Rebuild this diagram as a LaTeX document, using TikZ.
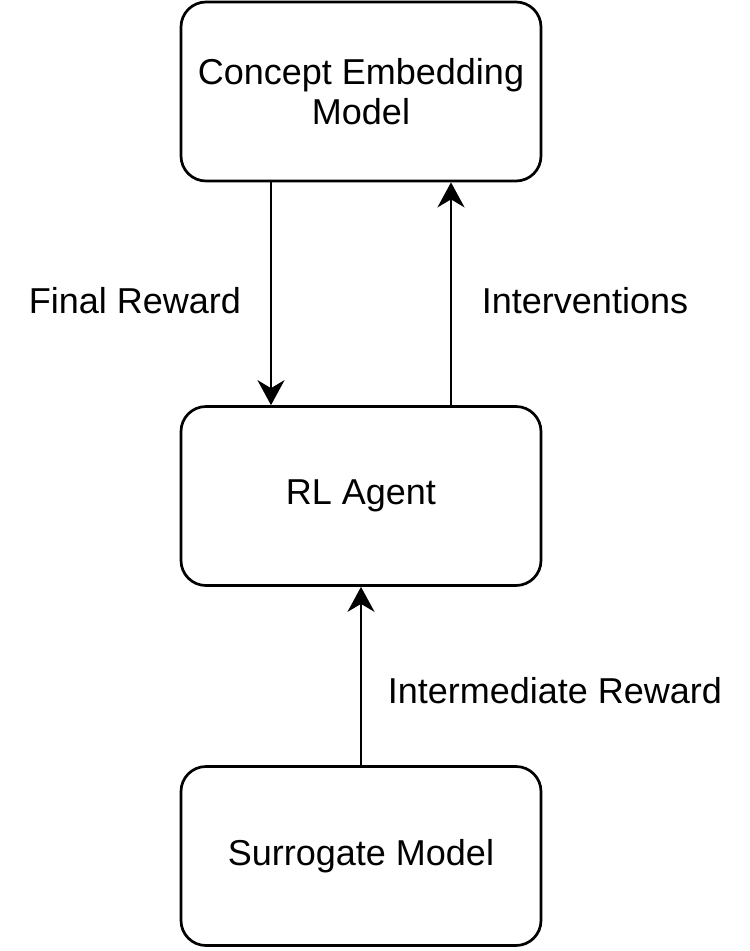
\documentclass[tikz,border=0pt]{standalone}
\usepackage{fontspec}
\setmainfont{Liberation Sans}
\usetikzlibrary{arrows.meta}

\tikzset{
  block/.style={draw, line width=2.7pt, rounded corners=25pt,
    minimum width=360pt, minimum height=179pt, align=center,
    font=\fontsize{36}{40}\selectfont},
  flow/.style={line width=2.7pt,
    -{Stealth[length=25pt, width=27pt, inset=8pt]}},
  flowlabel/.style={font=\fontsize{36}{40}\selectfont}
}

\begin{document}
\begin{tikzpicture}[x=1pt, y=-1pt]
    \useasboundingbox (0,0) rectangle (750,951);

    \node (cem) at (361,91.5) [block] {Concept Embedding\\Model};
    \node (agent) at (361,496) [block] {RL Agent};
    \node (surrogate) at (361,856) [block] {Surrogate Model};

    \draw [flow] ([xshift=-90pt]cem.south) -- ([xshift=-90pt]agent.north);
    \draw [flow] ([xshift=90pt]agent.north) -- ([xshift=90pt]cem.south);
    \draw [flow] (surrogate.north) -- (agent.south);

    \node (finalreward) at (135,301) [flowlabel] {Final Reward};
    \node (interventions) at (585,301) [flowlabel] {Interventions};
    \node (intermediate) at (555,691) [flowlabel] {Intermediate Reward};
  \end{tikzpicture}
\end{document}
